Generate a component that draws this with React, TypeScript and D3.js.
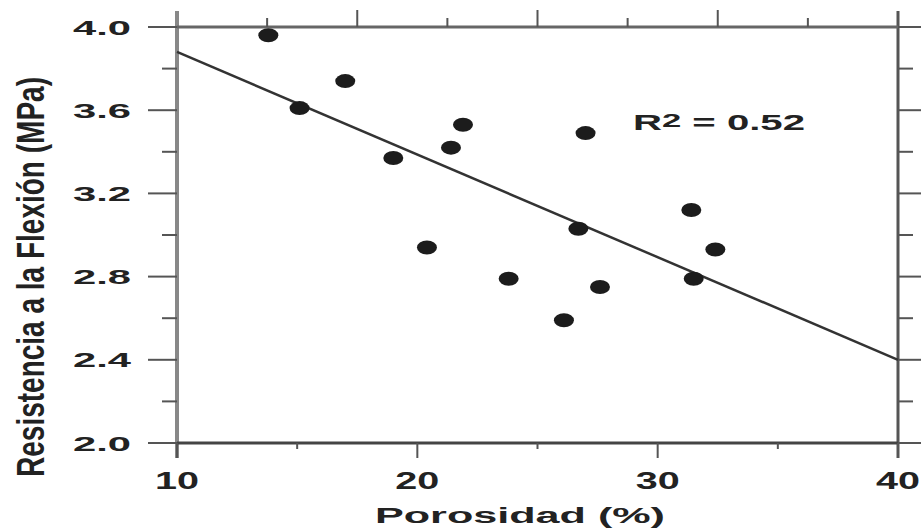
import React, { useEffect, useRef } from 'react'
import * as d3 from 'd3'

// data
const porosity = [13.8, 15.1, 17.0, 19.0, 20.4, 21.4, 21.9, 23.8, 26.1, 26.7, 27.0, 27.6, 31.4, 31.5, 32.4]
const strength = [3.96, 3.61, 3.74, 3.37, 2.94, 3.42, 3.53, 2.79, 2.59, 3.03, 3.49, 2.75, 3.12, 2.79, 2.93]

const fitX = [10, 40]
const fitY = [3.88, 2.4]

const yTicks = [2.0, 2.4, 2.8, 3.2, 3.6, 4.0]
const yMinor = [2.2, 2.6, 3.0, 3.4, 3.8]
const xTicks = [10, 20, 30, 40]
const xMinor = [15, 25, 35]
const topTicks = [13.75, 17.5, 21.25, 25, 28.75, 32.5, 36.25]

const W = 921
const H = 529

const App = () => {
    const svgRef = useRef(null)

    useEffect(() => {
        const svg = d3.select(svgRef.current)
        svg.selectAll('*').remove()

        const x = d3.scaleLinear().domain([10, 40]).range([177, 898])
        const y = d3.scaleLinear().domain([2, 4]).range([443, 27])
        const [x0, x1] = x.range()
        const [y0, y1] = y.range()

        const axisColor = '#555'

        // frame
        svg.append('line').attr('x1', x0).attr('x2', x0).attr('y1', y1 - 16).attr('y2', y0 + 15)
            .attr('stroke', '#888').attr('stroke-width', 4)
        svg.append('line').attr('x1', x1).attr('x2', x1).attr('y1', y1 - 16).attr('y2', y0 + 15)
            .attr('stroke', axisColor).attr('stroke-width', 3)
        svg.append('line').attr('x1', x0).attr('x2', x1).attr('y1', y1).attr('y2', y1)
            .attr('stroke', '#666').attr('stroke-width', 3)
        svg.append('line').attr('x1', x0).attr('x2', x1).attr('y1', y0).attr('y2', y0)
            .attr('stroke', '#444').attr('stroke-width', 3)

        // left / right ticks
        const yt = svg.append('g').attr('stroke', axisColor).attr('stroke-width', 2)
        yTicks.forEach(v => {
            yt.append('line').attr('x1', x0 - 29).attr('x2', x0).attr('y1', y(v)).attr('y2', y(v))
            yt.append('line').attr('x1', x1).attr('x2', x1 + 26).attr('y1', y(v)).attr('y2', y(v))
        })
        yMinor.forEach(v => {
            yt.append('line').attr('x1', x0 - 15).attr('x2', x0).attr('y1', y(v)).attr('y2', y(v))
            yt.append('line').attr('x1', x1).attr('x2', x1 + 15).attr('y1', y(v)).attr('y2', y(v))
        })

        // bottom ticks
        xTicks.forEach(v => {
            yt.append('line').attr('x1', x(v)).attr('x2', x(v)).attr('y1', y0).attr('y2', y0 + 15)
        })
        xMinor.forEach(v => {
            yt.append('line').attr('x1', x(v)).attr('x2', x(v)).attr('y1', y0).attr('y2', y0 + 6)
        })

        // top ticks (different spacing in the original)
        topTicks.forEach((v, i) => {
            const len = i % 2 === 1 ? 17 : 9
            yt.append('line').attr('x1', x(v)).attr('x2', x(v)).attr('y1', y1).attr('y2', y1 - len)
        })

        // tick labels
        svg.append('g')
            .selectAll('text')
            .data(yTicks)
            .join('text')
            .attr('x', 131)
            .attr('y', d => y(d) + 7.5)
            .attr('text-anchor', 'end')
            .attr('font-family', 'Liberation Sans, Arial, sans-serif')
            .attr('font-weight', 'bold')
            .attr('font-size', 21)
            .attr('fill', '#222')
            .attr('textLength', 58)
            .attr('lengthAdjust', 'spacingAndGlyphs')
            .text(d => d.toFixed(1))

        svg.append('g')
            .selectAll('text')
            .data(xTicks)
            .join('text')
            .attr('x', d => x(d))
            .attr('y', 489)
            .attr('text-anchor', 'middle')
            .attr('font-family', 'Liberation Sans, Arial, sans-serif')
            .attr('font-weight', 'bold')
            .attr('font-size', 23)
            .attr('fill', '#222')
            .attr('textLength', 44)
            .attr('lengthAdjust', 'spacingAndGlyphs')
            .text(d => d)

        // axis titles
        svg.append('text')
            .attr('x', 520)
            .attr('y', 523)
            .attr('text-anchor', 'middle')
            .attr('font-family', 'Liberation Sans, Arial, sans-serif')
            .attr('font-weight', 'bold')
            .attr('font-size', 22)
            .attr('fill', '#222')
            .attr('textLength', 290)
            .attr('lengthAdjust', 'spacingAndGlyphs')
            .text('Porosidad (%)')

        svg.append('text')
            .attr('transform', 'translate(31,277) rotate(-90) scale(1,1.45)')
            .attr('text-anchor', 'middle')
            .attr('dominant-baseline', 'central')
            .attr('font-family', 'Liberation Sans, Arial, sans-serif')
            .attr('font-weight', 'bold')
            .attr('font-size', 27)
            .attr('fill', '#222')
            .attr('textLength', 400)
            .attr('lengthAdjust', 'spacingAndGlyphs')
            .text('Resistencia a la Flexión (MPa)')

        // regression line
        const line = d3.line().x(d => x(d[0])).y(d => y(d[1]))
        svg.append('path')
            .datum(d3.zip(fitX, fitY))
            .attr('d', line)
            .attr('fill', 'none')
            .attr('stroke', '#333')
            .attr('stroke-width', 2.5)

        // points
        svg.append('g')
            .selectAll('ellipse')
            .data(d3.zip(porosity, strength))
            .join('ellipse')
            .attr('cx', d => x(d[0]))
            .attr('cy', d => y(d[1]))
            .attr('rx', 10)
            .attr('ry', 7)
            .attr('fill', '#1c1c1c')

        // R^2 annotation
        const r2 = svg.append('text')
            .attr('x', 633)
            .attr('y', 130)
            .attr('font-family', 'Liberation Sans, Arial, sans-serif')
            .attr('font-weight', 'bold')
            .attr('font-size', 22)
            .attr('fill', '#222')
            .attr('textLength', 172)
            .attr('lengthAdjust', 'spacingAndGlyphs')
        r2.append('tspan').text('R')
        r2.append('tspan').attr('dy', -3).attr('font-size', 19).text('2')
        r2.append('tspan').attr('dy', 3).text(' = 0.52')
    }, [])

    return (
        <svg ref={svgRef} width={W} height={H}
            style={{ position: 'absolute', left: 0, top: 0, background: '#fff' }} />
    )
}

export default App
